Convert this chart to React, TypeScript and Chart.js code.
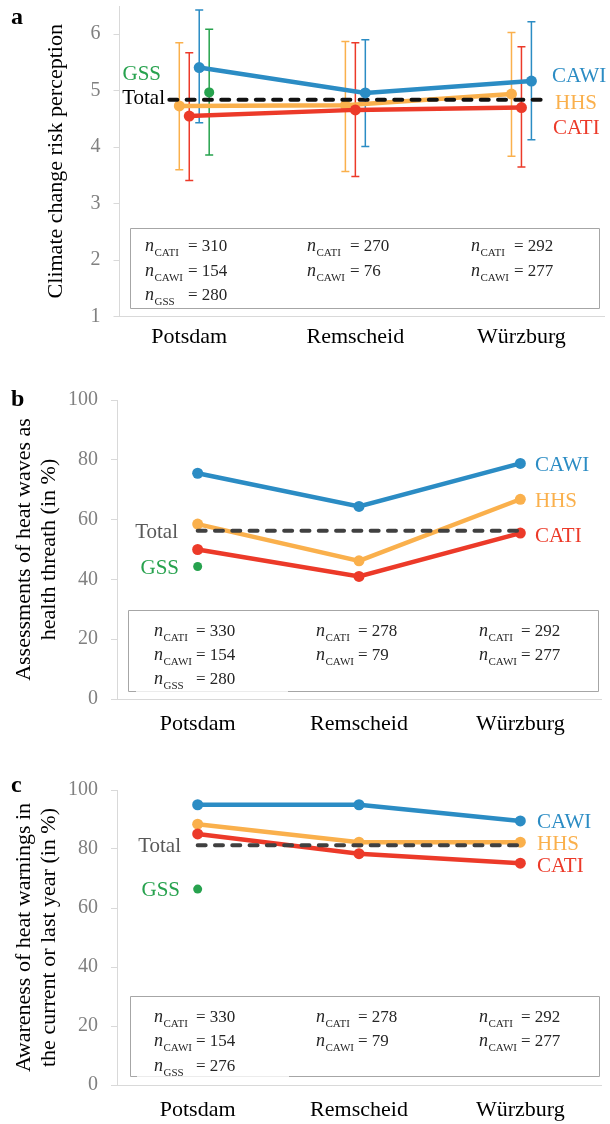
import React, { useEffect, useRef } from "react";
import { Chart, registerables } from "chart.js";

Chart.register(...registerables);

// ---------- data ----------
const cities = ["Potsdam", "Remscheid", "Würzburg"];
const riskTicks = [1, 2, 3, 4, 5, 6];
const pctTicks = [0, 20, 40, 60, 80, 100];

// a: climate change risk perception (means and error bars)
const riskHHS = [4.73, 4.74, 4.94];
const riskCATI = [4.55, 4.66, 4.7];
const riskCAWI = [5.41, 4.96, 5.17];
const riskGSS = [4.97];
const riskTotal = 4.84;
const riskHHSLow = [3.6, 3.57, 3.84];
const riskHHSHigh = [5.85, 5.87, 6.03];
const riskCATILow = [3.41, 3.48, 3.65];
const riskCATIHigh = [5.67, 5.85, 5.78];
const riskCAWILow = [4.43, 4.01, 4.13];
const riskCAWIHigh = [6.43, 5.9, 6.22];
const riskGSSLow = [3.86];
const riskGSSHigh = [6.09];
const riskNCATI = [310, 270, 292];
const riskNCAWI = [154, 76, 277];
const riskNGSS = 280;

// b: heat waves as health threat (%)
const heatHHS = [58.5, 46.2, 66.8];
const heatCATI = [50.0, 41.0, 55.5];
const heatCAWI = [75.5, 64.4, 78.8];
const heatGSS = [44.3];
const heatTotal = 56.3;
const heatNCATI = [330, 278, 292];
const heatNCAWI = [154, 79, 277];
const heatNGSS = 280;

// c: awareness of heat warnings (%)
const warnHHS = [88.4, 82.3, 82.3];
const warnCATI = [85.1, 78.4, 75.2];
const warnCAWI = [95.0, 95.0, 89.5];
const warnGSS = [66.4];
const warnTotal = 81.3;
const warnNCATI = [330, 278, 292];
const warnNCAWI = [154, 79, 277];
const warnNGSS = 276;

// ---------- styles ----------
const C = {
  HHS: "#fab04c",
  CATI: "#ec3a29",
  CAWI: "#2b8cc4",
  GSS: "#27a24e",
};
const SERIF = '"Liberation Serif", "Times New Roman", serif';

type Series = {
  name: string;
  color: string;
  values: number[];
  offset: number;
  radius: number;
  line: boolean;
  low?: number[];
  high?: number[];
};

type Label = { text: string; color: string; x: number; y: number; align: CanvasTextAlign };

type Panel = {
  top: number;
  height: number;
  letter: string;
  letterX: number;
  letterY: number;
  title: string[];
  titlePad: number;
  yMin: number;
  yMax: number;
  yTicks: number[];
  xMin: number;
  xMax: number;
  axisWidth: number;
  padTop: number;
  padRight: number;
  xAxisHeight: number;
  xLabelPad: number;
  series: Series[];
  total: { value: number; from: number; to: number; color: string; dash: number[] };
  labels: Label[];
  box: { x: number; y: number; w: number; h: number; gap?: [number, number] };
  nCols: number[];
  nRows: number[];
  eqDx: number;
  nCATI: number[];
  nCAWI: number[];
  nGSS: number;
};

const panelA: Panel = {
  top: 0,
  height: 360,
  letter: "a",
  letterX: 11,
  letterY: 24,
  title: ["Climate change risk perception"],
  titlePad: 43.5,
  yMin: 1,
  yMax: 6.5,
  yTicks: riskTicks,
  xMin: -0.42,
  xMax: 2.5,
  axisWidth: 119.5,
  padTop: 6,
  padRight: 0,
  xAxisHeight: 43.5,
  xLabelPad: 8,
  series: [
    { name: "HHS", color: C.HHS, values: riskHHS, offset: -0.06, radius: 5.5, line: true, low: riskHHSLow, high: riskHHSHigh },
    { name: "CATI", color: C.CATI, values: riskCATI, offset: 0, radius: 5.5, line: true, low: riskCATILow, high: riskCATIHigh },
    { name: "CAWI", color: C.CAWI, values: riskCAWI, offset: 0.06, radius: 5.5, line: true, low: riskCAWILow, high: riskCAWIHigh },
    { name: "GSS", color: C.GSS, values: riskGSS, offset: 0.12, radius: 5, line: false, low: riskGSSLow, high: riskGSSHigh },
  ],
  total: { value: riskTotal, from: -0.12, to: 2.12, color: "#111111", dash: [8, 9.3] },
  labels: [
    { text: "CAWI", color: C.CAWI, x: 552, y: 76, align: "left" },
    { text: "HHS", color: C.HHS, x: 555, y: 103, align: "left" },
    { text: "CATI", color: C.CATI, x: 553, y: 128, align: "left" },
    { text: "GSS", color: C.GSS, x: 161, y: 74, align: "right" },
    { text: "Total", color: "#000000", x: 165, y: 98, align: "right" },
  ],
  box: { x: 130, y: 228, w: 469, h: 80 },
  nCols: [145, 307, 471],
  nRows: [251, 276, 300],
  eqDx: 43,
  nCATI: riskNCATI,
  nCAWI: riskNCAWI,
  nGSS: riskNGSS,
};

const panelB: Panel = {
  top: 370,
  height: 380,
  letter: "b",
  letterX: 11,
  letterY: 36,
  title: ["Assessments of heat waves as", "health threath (in %)"],
  titlePad: 11.5,
  yMin: 0,
  yMax: 100,
  yTicks: pctTicks,
  xMin: -0.5,
  xMax: 2.5,
  axisWidth: 117,
  padTop: 30,
  padRight: 9,
  xAxisHeight: 51,
  xLabelPad: 12,
  series: [
    { name: "HHS", color: C.HHS, values: heatHHS, offset: 0, radius: 5.5, line: true },
    { name: "CATI", color: C.CATI, values: heatCATI, offset: 0, radius: 5.5, line: true },
    { name: "CAWI", color: C.CAWI, values: heatCAWI, offset: 0, radius: 5.5, line: true },
    { name: "GSS", color: C.GSS, values: heatGSS, offset: 0, radius: 4.5, line: false },
  ],
  total: { value: heatTotal, from: 0, to: 2, color: "#404040", dash: [8, 9.3] },
  labels: [
    { text: "CAWI", color: C.CAWI, x: 535, y: 95, align: "left" },
    { text: "HHS", color: C.HHS, x: 535, y: 131, align: "left" },
    { text: "CATI", color: C.CATI, x: 535, y: 166, align: "left" },
    { text: "GSS", color: C.GSS, x: 179, y: 198, align: "right" },
    { text: "Total", color: "#595959", x: 178, y: 162, align: "right" },
  ],
  box: { x: 128, y: 240, w: 470, h: 81, gap: [136, 288] },
  nCols: [154, 316, 479],
  nRows: [266, 289.5, 314],
  eqDx: 42,
  nCATI: heatNCATI,
  nCAWI: heatNCAWI,
  nGSS: heatNGSS,
};

const panelC: Panel = {
  top: 760,
  height: 364,
  letter: "c",
  letterX: 11,
  letterY: 32,
  title: ["Awareness of heat warnings in", "the current or last year (in %)"],
  titlePad: 11.5,
  yMin: 0,
  yMax: 100,
  yTicks: pctTicks,
  xMin: -0.5,
  xMax: 2.5,
  axisWidth: 117,
  padTop: 30,
  padRight: 9,
  xAxisHeight: 39,
  xLabelPad: 12.5,
  series: [
    { name: "HHS", color: C.HHS, values: warnHHS, offset: 0, radius: 5.5, line: true },
    { name: "CATI", color: C.CATI, values: warnCATI, offset: 0, radius: 5.5, line: true },
    { name: "CAWI", color: C.CAWI, values: warnCAWI, offset: 0, radius: 5.5, line: true },
    { name: "GSS", color: C.GSS, values: warnGSS, offset: 0, radius: 4.5, line: false },
  ],
  total: { value: warnTotal, from: 0, to: 2, color: "#404040", dash: [8, 9.3] },
  labels: [
    { text: "CAWI", color: C.CAWI, x: 537, y: 62, align: "left" },
    { text: "HHS", color: C.HHS, x: 537, y: 84, align: "left" },
    { text: "CATI", color: C.CATI, x: 537, y: 106, align: "left" },
    { text: "GSS", color: C.GSS, x: 180, y: 130, align: "right" },
    { text: "Total", color: "#595959", x: 181, y: 86, align: "right" },
  ],
  box: { x: 130, y: 236, w: 469, h: 80, gap: [137, 289] },
  nCols: [154, 316, 479],
  nRows: [262, 286, 310.5],
  eqDx: 42,
  nCATI: warnNCATI,
  nCAWI: warnNCAWI,
  nGSS: warnNGSS,
};

const panels = [panelA, panelB, panelC];

// ---------- plugins ----------
const errorBarPlugin = {
  id: "errorBars",
  beforeDatasetsDraw(chart: any, _args: any, opts: any) {
    const p: Panel = opts.panel;
    const { ctx } = chart;
    const xs = chart.scales.x;
    const ys = chart.scales.y;
    ctx.save();
    ctx.lineWidth = 1.5;
    p.series.forEach((s) => {
      if (!s.low || !s.high) return;
      ctx.strokeStyle = s.color;
      s.values.forEach((_v, i) => {
        const px = xs.getPixelForValue(i + s.offset);
        const y1 = ys.getPixelForValue(s.low![i]);
        const y2 = ys.getPixelForValue(s.high![i]);
        ctx.beginPath();
        ctx.moveTo(px, y1);
        ctx.lineTo(px, y2);
        ctx.moveTo(px - 4, y1);
        ctx.lineTo(px + 4, y1);
        ctx.moveTo(px - 4, y2);
        ctx.lineTo(px + 4, y2);
        ctx.stroke();
      });
    });
    ctx.restore();
  },
};

function drawN(ctx: CanvasRenderingContext2D, x: number, y: number, sub: string, val: number, eqDx: number) {
  ctx.textAlign = "left";
  ctx.textBaseline = "alphabetic";
  ctx.fillStyle = "#262626";
  ctx.font = `italic 18px ${SERIF}`;
  ctx.fillText("n", x, y);
  ctx.font = `11px ${SERIF}`;
  ctx.fillText(sub, x + 9.5, y + 5);
  ctx.font = `17px ${SERIF}`;
  ctx.fillText("= " + val, x + eqDx, y);
}

const annotationPlugin = {
  id: "annotations",
  afterDraw(chart: any, _args: any, opts: any) {
    const p: Panel = opts.panel;
    const ctx: CanvasRenderingContext2D = chart.ctx;
    ctx.save();
    // panel letter
    ctx.fillStyle = "#000";
    ctx.font = `bold 24px ${SERIF}`;
    ctx.textAlign = "left";
    ctx.textBaseline = "alphabetic";
    ctx.fillText(p.letter, p.letterX, p.letterY);
    // series labels
    ctx.font = `21px ${SERIF}`;
    ctx.textBaseline = "middle";
    p.labels.forEach((l) => {
      ctx.fillStyle = l.color;
      ctx.textAlign = l.align;
      ctx.fillText(l.text, l.x, l.y);
    });
    // n box
    const b = p.box;
    ctx.strokeStyle = "#a6a6a6";
    ctx.lineWidth = 1;
    const x0 = Math.round(b.x) + 0.5;
    const y0 = Math.round(b.y) + 0.5;
    const x1 = Math.round(b.x + b.w) + 0.5;
    const y1 = Math.round(b.y + b.h) + 0.5;
    ctx.beginPath();
    ctx.moveTo(x0, y1);
    ctx.lineTo(x0, y0);
    ctx.lineTo(x1, y0);
    ctx.lineTo(x1, y1);
    if (b.gap) {
      ctx.lineTo(b.gap[1], y1);
      ctx.moveTo(b.gap[0], y1);
      ctx.lineTo(x0, y1);
    } else {
      ctx.lineTo(x0, y1);
    }
    ctx.stroke();
    if (b.gap) {
      ctx.strokeStyle = "#ececec";
      ctx.beginPath();
      ctx.moveTo(b.gap[0], y1);
      ctx.lineTo(b.gap[1], y1);
      ctx.stroke();
    }
    p.nCols.forEach((cx, i) => {
      drawN(ctx, cx, p.nRows[0], "CATI", p.nCATI[i], p.eqDx);
      drawN(ctx, cx, p.nRows[1], "CAWI", p.nCAWI[i], p.eqDx);
      if (i === 0) drawN(ctx, cx, p.nRows[2], "GSS", p.nGSS, p.eqDx);
    });
    ctx.restore();
  },
};

function buildChart(canvas: HTMLCanvasElement, p: Panel) {
  const byName = (n: string) => p.series.find((s) => s.name === n)!;
  const mk = (s: Series) => ({
    label: s.name,
    data: s.values.map((v, i) => ({ x: i + s.offset, y: v })),
    borderColor: s.color,
    backgroundColor: s.color,
    borderWidth: 4.5,
    showLine: s.line,
    pointRadius: s.radius,
    pointBackgroundColor: s.color,
    pointBorderColor: s.color,
    pointBorderWidth: 0,
    pointHoverRadius: s.radius,
    tension: 0,
  });
  const totalDs = {
    label: "Total",
    data: [
      { x: p.total.from, y: p.total.value },
      { x: p.total.to, y: p.total.value },
    ],
    borderColor: p.total.color,
    backgroundColor: p.total.color,
    borderWidth: 4,
    borderDash: p.total.dash,
    borderCapStyle: "round",
    pointRadius: 0,
    pointHoverRadius: 0,
    tension: 0,
  };
  // first dataset is drawn on top
  const datasets = [mk(byName("GSS")), mk(byName("CAWI")), totalDs, mk(byName("CATI")), mk(byName("HHS"))];

  return new Chart(canvas, {
    type: "line",
    data: { datasets: datasets as any },
    plugins: [errorBarPlugin as any, annotationPlugin as any],
    options: {
      animation: false,
      responsive: false,
      devicePixelRatio: 1,
      events: [],
      layout: { padding: { left: 0, top: p.padTop, right: p.padRight, bottom: 0 } },
      plugins: {
        legend: { display: false },
        tooltip: { enabled: false },
        errorBars: { panel: p },
        annotations: { panel: p },
      } as any,
      scales: {
        x: {
          type: "linear",
          min: p.xMin,
          max: p.xMax,
          grid: { display: false, drawTicks: false },
          border: { display: true, color: "#d9d9d9", width: 1 },
          afterBuildTicks: (s: any) => {
            s.ticks = cities.map((_c, i) => ({ value: i }));
          },
          afterFit: (s: any) => {
            s.height = p.xAxisHeight;
            s.paddingLeft = 0;
            s.paddingRight = 0;
          },
          ticks: {
            autoSkip: false,
            maxRotation: 0,
            padding: p.xLabelPad,
            color: "#000000",
            font: { family: SERIF, size: 22 },
            callback: (v: any) => cities[Number(v)] ?? "",
          },
        },
        y: {
          type: "linear",
          min: p.yMin,
          max: p.yMax,
          grid: { display: true, drawOnChartArea: false, drawTicks: true, tickLength: 6, color: "#d9d9d9" },
          border: { display: true, color: "#d9d9d9", width: 1 },
          afterBuildTicks: (s: any) => {
            s.ticks = p.yTicks.map((v) => ({ value: v }));
          },
          afterFit: (s: any) => {
            s.width = p.axisWidth;
            s.paddingTop = 0;
            s.paddingBottom = 0;
          },
          ticks: {
            padding: 13,
            color: "#808080",
            font: { family: SERIF, size: 20 },
          },
          title: {
            display: true,
            text: p.title,
            color: "#000000",
            font: { family: SERIF, size: 22, lineHeight: "25px" },
            padding: { top: p.titlePad, bottom: 0 },
          },
        },
      },
    } as any,
  });
}

function PanelChart({ panel }: { panel: Panel }) {
  const ref = useRef<HTMLCanvasElement | null>(null);
  useEffect(() => {
    if (!ref.current) return;
    const chart = buildChart(ref.current, panel);
    return () => chart.destroy();
  }, [panel]);
  return (
    <canvas
      ref={ref}
      width={610}
      height={panel.height}
      style={{ position: "absolute", left: 0, top: panel.top, width: 610, height: panel.height, display: "block" }}
    />
  );
}

export default function App() {
  return (
    <div style={{ position: "absolute", left: 0, top: 0, width: 610, height: 1124, background: "#ffffff", overflow: "hidden" }}>
      {panels.map((p) => (
        <PanelChart key={p.letter} panel={p} />
      ))}
    </div>
  );
}
